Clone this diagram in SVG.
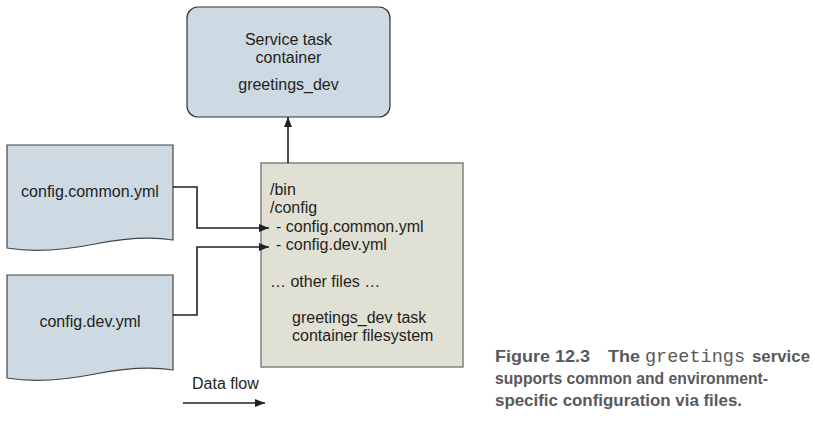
<svg xmlns="http://www.w3.org/2000/svg" width="815" height="423" viewBox="0 0 815 423">
<defs>
<style>
.t{font-family:"Liberation Sans",Arial,sans-serif;font-size:16px;fill:#231f20}
.c{font-family:"Liberation Sans",Arial,sans-serif;font-size:17px;font-weight:bold;fill:#58595b}
.m{font-family:"Liberation Mono","Courier New",monospace;font-size:18px;font-weight:normal;fill:#58595b}
.doc{fill:#cdd9e3;stroke:#444;stroke-width:1.2}
.ln{fill:none;stroke:#231f20;stroke-width:1.6}
</style>
<marker id="ah" markerWidth="10" markerHeight="8" refX="10" refY="4" orient="auto" markerUnits="userSpaceOnUse">
<path d="M0,0 L10,4 L0,8 Z" fill="#231f20"/>
</marker>
</defs>
<rect width="815" height="423" fill="#fff"/>
<g id="service">
<rect x="187" y="7" width="203" height="110" rx="11" fill="#cdd9e3" stroke="#333" stroke-width="1.2"/>
<text class="t" x="288.5" y="45" text-anchor="middle">Service task</text>
<text class="t" x="288.5" y="63" text-anchor="middle">container</text>
<text class="t" x="288.5" y="90" text-anchor="middle">greetings_dev</text>
</g>
<g id="common">
<path class="doc" d="M7,145 H173 V240 C150,236 125,238 95,244 C60,251 30,252 7,248 Z"/>
<text class="t" x="90" y="197" text-anchor="middle">config.common.yml</text>
</g>
<g id="dev">
<path class="doc" d="M7,275 H173 V370 C150,366 125,368 95,374 C60,381 30,382 7,378 Z"/>
<text class="t" x="90" y="327" text-anchor="middle">config.dev.yml</text>
</g>
<g id="filesystem">
<rect x="261" y="163" width="202" height="204" fill="#e1e0d4" stroke="#808080" stroke-width="1.5"/>
<text class="t" x="270" y="195">/bin</text>
<text class="t" x="270" y="213">/config</text>
<text class="t" x="276" y="232"> - config.common.yml</text>
<text class="t" x="276" y="250"> - config.dev.yml</text>
<text class="t" x="270" y="287">… other files …</text>
<text class="t" x="292" y="323">greetings_dev task</text>
<text class="t" x="292" y="341">container filesystem</text>
</g>
<g id="connectors">
<path class="ln" d="M288,163 V117" marker-end="url(#ah)"/>
<path class="ln" d="M173,187 H197 V228 H269" marker-end="url(#ah)"/>
<path class="ln" d="M173,315 H197 V247 H269" marker-end="url(#ah)"/>
<path class="ln" d="M183,403 H265" marker-end="url(#ah)"/>
</g>
<g id="legend">
<text class="t" x="192" y="389">Data flow</text>
</g>
<g id="caption">
<text class="c" x="495" y="362" textLength="95" lengthAdjust="spacingAndGlyphs">Figure 12.3</text>
<text class="c" x="608" y="362" textLength="32" lengthAdjust="spacingAndGlyphs">The</text>
<text class="m" x="645" y="362" textLength="100" lengthAdjust="spacingAndGlyphs">greetings</text>
<text class="c" x="752" y="362" textLength="58" lengthAdjust="spacingAndGlyphs">service</text>
<text class="c" x="495" y="384" textLength="273" lengthAdjust="spacingAndGlyphs">supports common and environment-</text>
<text class="c" x="495" y="406" textLength="247" lengthAdjust="spacingAndGlyphs">specific configuration via files.</text>
</g>
</svg>
